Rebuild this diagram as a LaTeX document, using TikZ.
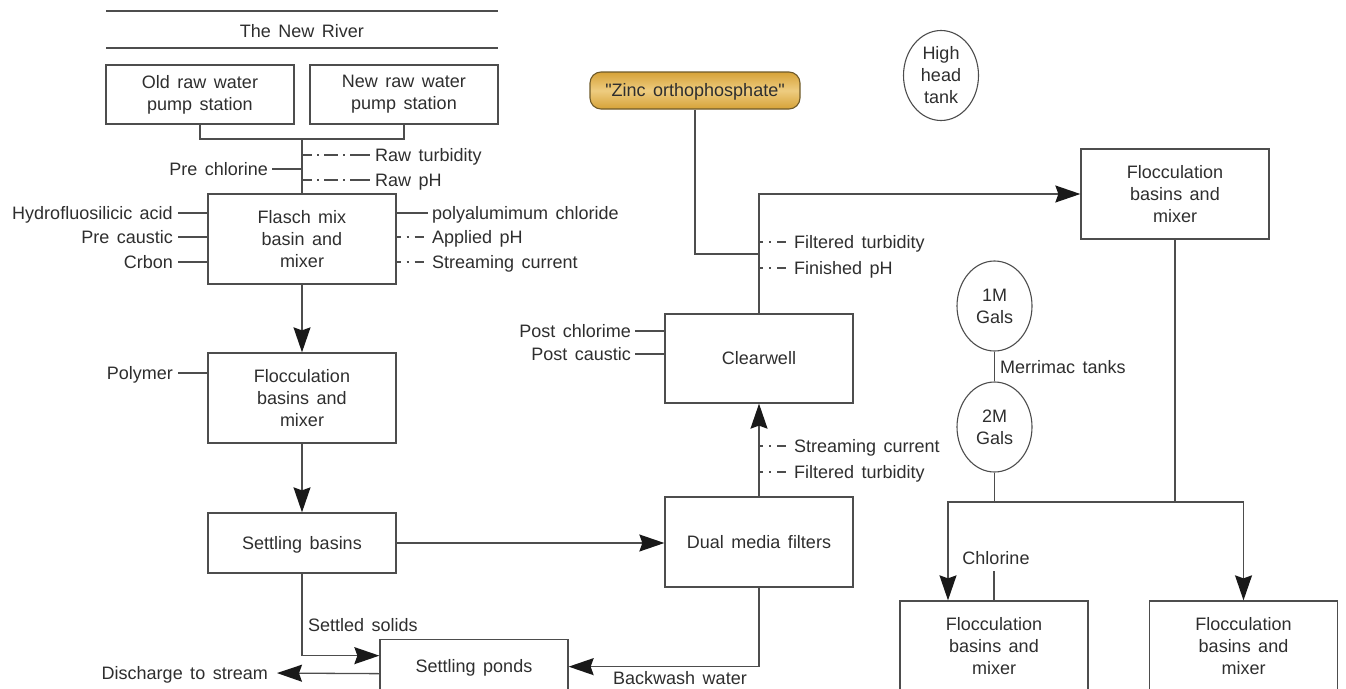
\documentclass[tikz,border=0pt]{standalone}
\usepackage{fontspec}
\setmainfont{Liberation Sans}[WordSpace=1.5]
\newfontfamily\plainquote{Liberation Sans}[WordSpace=1.5, Ligatures=TeXOff]
\usetikzlibrary{arrows.meta,shapes.geometric,calc}
\definecolor{lc}{HTML}{4D4D4D}
\definecolor{tc}{HTML}{2E2E2E}
\definecolor{goldD}{HTML}{D6A237}
\definecolor{goldL}{HTML}{EECC80}
\definecolor{goldB}{HTML}{6E5A2A}
\tikzset{
  x=1pt, y=-1pt,
  every node/.style={font=\fontsize{18}{22}\selectfont, text=tc, inner sep=0pt},
  lbl/.style={text height=12.5pt, text depth=0pt},
  box/.style={draw=lc, line width=1.3pt, minimum width=188pt, minimum height=90pt, align=center},
  tank/.style={draw=lc, line width=1.1pt, ellipse, minimum width=75pt, minimum height=90pt, align=center},
  ln/.style={draw=lc, line width=1.3pt},
  arr/.style={ln, -{Stealth[length=25pt,width=17pt,inset=3pt,color=black!90]}},
  ddl/.style={ln, dash pattern=on 10pt off 5pt on 2pt off 5pt on 14pt off 5pt on 2pt off 5pt on 20pt off 50pt},
  dds/.style={ln, dash pattern=on 4pt off 6pt on 2pt off 6pt on 9pt off 50pt},
}
\begin{document}
\begin{tikzpicture}
\useasboundingbox (0,0) rectangle (1346,688);
\clip (0,0) rectangle (1346,688);
% river
\coordinate (rA) at (106,11); \coordinate (rB) at (498,11);
\coordinate (rC) at (106,48); \coordinate (rD) at (498,48);
\draw[ln] (rA) -- (rB);
\draw[ln] (rC) -- (rD);
\node[lbl] (river) at (302,31) {The New River};
% pump stations
\node[box, minimum height=59pt] (old) at (200,94.5) {Old raw water\\pump station};
\node[box, minimum height=59pt] (new) at (404,94.5) {New raw water\\pump station};
\node[box] (flasch) at (302,239) {Flasch mix\\basin and\\mixer};
\coordinate (jn) at (302,139);
\draw[ln] (old.south) |- (jn) -| (new.south);
\draw[ln] (jn) -- (flasch.north);
% raw sensors
\node[lbl, anchor=west] (rt) at (375,155) {Raw turbidity};
\node[lbl, anchor=west] (rph) at (375,180) {Raw pH};
\draw[ddl] (jn |- rt) -- ([xshift=-5pt]rt.west);
\draw[ddl] (jn |- rph) -- ([xshift=-5pt]rph.west);
\node[lbl, anchor=east] (pcl) at (268,169) {Pre chlorine};
\draw[ln] ([xshift=4pt]pcl.east) -- (jn |- pcl);
% flasch inputs
\node[lbl, anchor=east] (hfa) at (173,213) {Hydrofluosilicic acid};
\node[lbl, anchor=east] (pca) at (173,237) {Pre caustic};
\node[lbl, anchor=east] (crb) at (173,262) {Crbon};
\draw[ln] ([xshift=5pt]hfa.east) -- (flasch.west |- hfa);
\draw[ln] ([xshift=5pt]pca.east) -- (flasch.west |- pca);
\draw[ln] ([xshift=5pt]crb.east) -- (flasch.west |- crb);
\node[lbl, anchor=west] (pac) at (432,213) {polyalumimum chloride};
\node[lbl, anchor=west] (aph) at (432,237) {Applied pH};
\node[lbl, anchor=west] (scf) at (432,262) {Streaming current};
\draw[ln] (flasch.east |- pac) -- ([xshift=-4pt]pac.west);
\draw[dds] (flasch.east |- aph) -- ([xshift=-4pt]aph.west);
\draw[dds] (flasch.east |- scf) -- ([xshift=-4pt]scf.west);
% flocculation 1
\node[box] (floc1) at (302,398) {Flocculation\\basins and\\mixer};
\draw[arr] (flasch.south) -- (floc1.north);
\node[lbl, anchor=east] (poly) at (173,373) {Polymer};
\draw[ln] ([xshift=5pt]poly.east) -- (floc1.west |- poly);
% settling basins
\node[box, lbl, minimum height=60pt] (settle) at (302,543) {Settling basins};
\draw[arr] (floc1.south) -- (settle.north);
% dual media
\node[box, lbl] (dual) at (759,542) {Dual media filters};
\draw[arr] (settle.east) -- (dual.west |- settle.east);
% ponds
\node[box, lbl, minimum height=54pt, anchor=north] (ponds) at (474,639) {Settling ponds};
\draw[arr] (settle.south) |- ([yshift=11pt]ponds.west);
\node[lbl, anchor=west] (ssol) at (308,625) {Settled solids};
\node[lbl, anchor=east] (dis) at (268,673) {Discharge to stream};
\draw[arr, shorten >=9pt] ([yshift=-7pt]ponds.west) -- (dis.east);
\draw[arr] (dual.south) |- (ponds.east);
\node[lbl] (bw) at (680,678) {Backwash water};
% clearwell
\node[box, lbl, minimum height=89pt] (clear) at (759,358.5) {Clearwell};
\draw[arr] (dual.north) -- (clear.south);
\node[lbl, anchor=west] (sc2) at (794,446) {Streaming current};
\node[lbl, anchor=west] (ft2) at (794,472) {Filtered turbidity};
\draw[dds] (dual.north |- sc2) -- ([xshift=-4pt]sc2.west);
\draw[dds] (dual.north |- ft2) -- ([xshift=-4pt]ft2.west);
\node[lbl, anchor=east] (pchl) at (631,331) {Post chlorime};
\node[lbl, anchor=east] (pcau) at (631,354) {Post caustic};
\draw[ln] ([xshift=4pt]pchl.east) -- (clear.west |- pchl);
\draw[ln] ([xshift=4pt]pcau.east) -- (clear.west |- pcau);
% flocculation 2
\node[box] (floc2) at (1175,194) {Flocculation\\basins and\\mixer};
\draw[arr] (clear.north) |- (floc2.west);
% zinc
\node[lbl, draw=goldB, line width=1.1pt, rounded corners=11pt, minimum width=210pt, minimum height=37pt,
      top color=goldD, bottom color=goldD, middle color=goldL, font=\fontsize{18}{22}\plainquote] (zinc) at (695,90.5) {"Zinc orthophosphate"};
\coordinate (zj) at (759,254);
\draw[ln] (zinc.south) |- (zj);
\node[lbl, anchor=west] (ft1) at (794,242) {Filtered turbidity};
\node[lbl, anchor=west] (fph) at (794,268) {Finished pH};
\draw[dds] (clear.north |- ft1) -- ([xshift=-4pt]ft1.west);
\draw[dds] (clear.north |- fph) -- ([xshift=-4pt]fph.west);
% tanks
\node[tank] (hht) at (941,75.5) {High\\head\\tank};
\node[tank] (t1) at (994.5,306) {1M\\Gals};
\node[tank] (t2) at (994.5,427) {2M\\Gals};
\draw[ln] (t1.south) -- (t2.north);
\node[lbl, anchor=west] (mer) at (1000,367) {Merrimac tanks};
% bottom distribution
\node[box] (floc3) at (994,646) {Flocculation\\basins and\\mixer};
\node[box] (floc4) at (1243.5,646) {Flocculation\\basins and\\mixer};
\coordinate (bj) at (1175,502);
\coordinate (bl) at (948,502);
\draw[ln] (floc2.south) -- (bj);
\draw[ln] (t2.south) -- (t2.south |- bj);
\draw[arr] (bj) -| (floc4.north);
\draw[arr] (bj) -- (bl) -- (bl |- floc3.north);
\node[lbl] (chl) at (996,558) {Chlorine};
\draw[ln] ([yshift=-7pt]chl.south -| floc3.north) -- (floc3.north);
\end{tikzpicture}
\end{document}
